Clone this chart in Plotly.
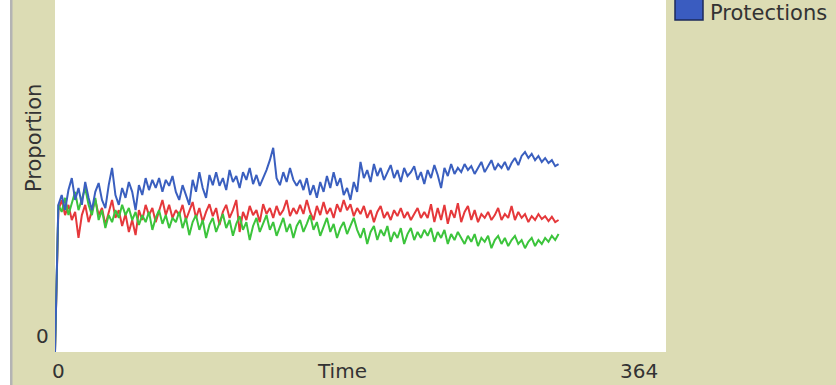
import plotly.graph_objects as go

time = list(range(0, 302, 2))

blue = [0, 0.418, 0.446, 0.403, 0.460, 0.494, 0.432, 0.466, 0.418, 0.483, 0.438,
        0.403, 0.455, 0.480, 0.432, 0.409, 0.474, 0.523, 0.446, 0.418, 0.466,
        0.438, 0.483, 0.455, 0.403, 0.474, 0.446, 0.494, 0.460, 0.489, 0.466,
        0.494, 0.455, 0.489, 0.472, 0.500, 0.455, 0.432, 0.474, 0.446, 0.418,
        0.489, 0.455, 0.511, 0.466, 0.438, 0.503, 0.474, 0.511, 0.472, 0.494,
        0.460, 0.517, 0.483, 0.500, 0.466, 0.511, 0.489, 0.523, 0.477, 0.503,
        0.472, 0.494, 0.517, 0.545, 0.580, 0.494, 0.474, 0.511, 0.483, 0.523,
        0.489, 0.472, 0.489, 0.460, 0.494, 0.446, 0.474, 0.438, 0.483, 0.455,
        0.500, 0.466, 0.511, 0.472, 0.494, 0.446, 0.466, 0.432, 0.483, 0.455,
        0.540, 0.494, 0.517, 0.483, 0.534, 0.500, 0.523, 0.489, 0.511, 0.531,
        0.494, 0.517, 0.483, 0.523, 0.500, 0.511, 0.528, 0.489, 0.511, 0.477,
        0.517, 0.494, 0.531, 0.503, 0.466, 0.523, 0.500, 0.534, 0.506, 0.523,
        0.511, 0.534, 0.517, 0.528, 0.506, 0.523, 0.540, 0.511, 0.528, 0.545,
        0.517, 0.534, 0.523, 0.540, 0.517, 0.537, 0.551, 0.531, 0.557, 0.568,
        0.551, 0.563, 0.545, 0.557, 0.540, 0.551, 0.537, 0.545, 0.528, 0.534]

red = [0, 0.403, 0.432, 0.389, 0.418, 0.375, 0.398, 0.324, 0.389, 0.418, 0.369,
       0.403, 0.432, 0.389, 0.409, 0.361, 0.398, 0.432, 0.381, 0.403, 0.358,
       0.392, 0.341, 0.375, 0.332, 0.403, 0.375, 0.418, 0.389, 0.409, 0.369,
       0.398, 0.432, 0.389, 0.418, 0.381, 0.403, 0.389, 0.418, 0.375, 0.403,
       0.426, 0.381, 0.409, 0.369, 0.398, 0.420, 0.386, 0.409, 0.361, 0.398,
       0.418, 0.381, 0.403, 0.432, 0.341, 0.398, 0.375, 0.415, 0.389, 0.403,
       0.369, 0.420, 0.392, 0.409, 0.381, 0.415, 0.389, 0.403, 0.432, 0.386,
       0.409, 0.392, 0.418, 0.392, 0.432, 0.398, 0.375, 0.415, 0.389, 0.426,
       0.392, 0.409, 0.381, 0.420, 0.398, 0.432, 0.403, 0.420, 0.386, 0.409,
       0.392, 0.415, 0.381, 0.403, 0.369, 0.398, 0.415, 0.381, 0.398, 0.375,
       0.403, 0.386, 0.409, 0.381, 0.398, 0.375, 0.392, 0.409, 0.381, 0.398,
       0.381, 0.420, 0.369, 0.409, 0.375, 0.418, 0.364, 0.403, 0.381, 0.423,
       0.369, 0.398, 0.415, 0.375, 0.403, 0.369, 0.392, 0.381, 0.398, 0.375,
       0.389, 0.409, 0.375, 0.392, 0.381, 0.415, 0.375, 0.398, 0.381, 0.392,
       0.369, 0.386, 0.375, 0.392, 0.378, 0.386, 0.372, 0.384, 0.369, 0.375]

green = [0, 0.418, 0.398, 0.438, 0.389, 0.426, 0.455, 0.403, 0.432, 0.466, 0.418,
         0.389, 0.438, 0.375, 0.403, 0.352, 0.389, 0.369, 0.403, 0.381, 0.418,
         0.389, 0.409, 0.375, 0.398, 0.361, 0.389, 0.369, 0.398, 0.347, 0.381,
         0.403, 0.364, 0.389, 0.352, 0.381, 0.369, 0.398, 0.352, 0.381, 0.332,
         0.369, 0.389, 0.347, 0.375, 0.324, 0.361, 0.381, 0.341, 0.369, 0.392,
         0.352, 0.375, 0.330, 0.364, 0.386, 0.347, 0.369, 0.318, 0.358, 0.381,
         0.341, 0.364, 0.389, 0.347, 0.369, 0.330, 0.358, 0.381, 0.341, 0.364,
         0.324, 0.358, 0.375, 0.341, 0.364, 0.389, 0.347, 0.369, 0.330, 0.358,
         0.381, 0.341, 0.364, 0.324, 0.352, 0.369, 0.335, 0.358, 0.381, 0.347,
         0.324, 0.352, 0.307, 0.341, 0.358, 0.318, 0.347, 0.330, 0.358, 0.313,
         0.341, 0.324, 0.352, 0.307, 0.335, 0.352, 0.318, 0.341, 0.324, 0.347,
         0.330, 0.352, 0.313, 0.341, 0.324, 0.347, 0.307, 0.335, 0.318, 0.341,
         0.324, 0.307, 0.330, 0.313, 0.335, 0.301, 0.324, 0.313, 0.330, 0.295,
         0.318, 0.330, 0.307, 0.324, 0.301, 0.318, 0.330, 0.307, 0.318, 0.295,
         0.313, 0.324, 0.301, 0.318, 0.307, 0.324, 0.313, 0.330, 0.318, 0.335]

x_range = [0, 364]
y_range = [0, 1]
x_tick_labels = ["0", "364"]
y_tick_label = "0"
x_title = "Time"
y_title = "Proportion"
legend_label = "Protections"

KHAKI = "#dcdcb4"
TEXT = "#333333"
FONT = "DejaVu Sans"
FS = 20

fig = go.Figure()
for vals, col in [(red, "#e5383b"), (green, "#3cc43c"), (blue, "#3a5fbf")]:
    fig.add_trace(go.Scatter(x=time, y=vals, mode="lines",
                             line=dict(color=col, width=2),
                             showlegend=False, hoverinfo="skip"))

L, R, T, B = 55, 170, 0, 33
W, H = 836, 385
pw = W - L - R
ph = H - T - B

def px(xpix):
    return (xpix - L) / pw

def py(ypix):
    return (H - B - ypix) / ph

shapes = [
    dict(type="rect", xref="paper", yref="paper", x0=px(-5), x1=px(10),
         y0=py(H + 5), y1=py(-5), fillcolor="white", line=dict(width=0), layer="below"),
    dict(type="rect", xref="paper", yref="paper", x0=px(10), x1=px(12.5),
         y0=py(H + 5), y1=py(-5), fillcolor="#b4b4b4", line=dict(width=0), layer="below"),
    dict(type="rect", xref="paper", yref="paper", x0=px(675), x1=px(703),
         y0=py(20), y1=py(-6), fillcolor="#3a5cc0",
         line=dict(color="#1c2a5a", width=1.5)),
]

def ann(text, xp, yp, size=FS, angle=0, xanchor="center"):
    return dict(text=text, x=px(xp), y=py(yp), xref="paper", yref="paper",
                xanchor=xanchor, yanchor="middle", showarrow=False, textangle=angle,
                font=dict(family=FONT, size=size, color=TEXT))

annotations = [
    ann(x_tick_labels[0], 58, 371),
    ann(x_tick_labels[1], 639, 371),
    ann(x_title, 342, 371),
    ann(y_tick_label, 42, 336),
    ann(y_title, 34, 138, size=21, angle=-90),
    ann(legend_label, 708, 13, size=21, xanchor="left"),
]

fig.update_layout(
    width=W, height=H,
    margin=dict(l=L, r=R, t=T, b=B),
    paper_bgcolor=KHAKI, plot_bgcolor="white",
    xaxis=dict(range=x_range, showgrid=False, zeroline=False, showticklabels=False,
               ticks="", showline=False, fixedrange=True),
    yaxis=dict(range=y_range, showgrid=False, zeroline=False, showticklabels=False,
               ticks="", showline=False, fixedrange=True),
    shapes=shapes, annotations=annotations,
    showlegend=False,
)

fig.write_html("out.html", config={"displayModeBar": False},
               post_script="document.body.style.margin='0';document.body.style.overflow='hidden';")
